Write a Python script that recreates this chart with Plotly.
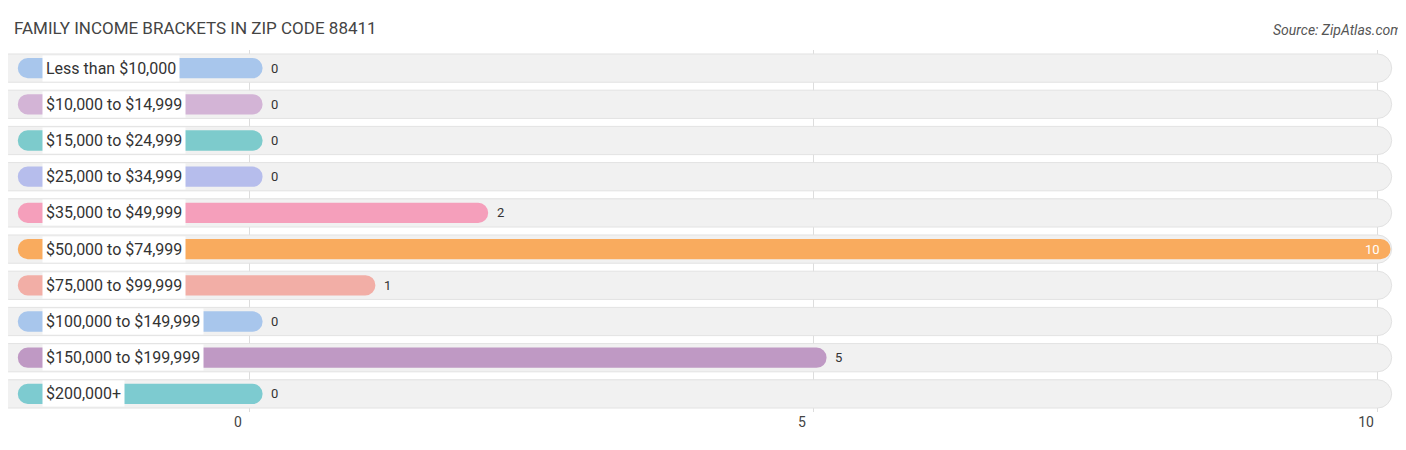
import plotly.graph_objects as go

brackets = ["Less than $10,000", "$10,000 to $14,999", "$15,000 to $24,999",
            "$25,000 to $34,999", "$35,000 to $49,999", "$50,000 to $74,999",
            "$75,000 to $99,999", "$100,000 to $149,999", "$150,000 to $199,999",
            "$200,000+"]
families = [0, 0, 0, 0, 2, 10, 1, 0, 5, 0]
colors = ["#a8c6ec", "#d3b4d6", "#7dcbcc", "#b6bdec", "#f59fbb",
          "#f9ab5e", "#f2aea6", "#a8c6ec", "#bf99c4", "#7dcbd0"]

LEFT = -2.05   # bars start under the label pill
PAD = 0.12     # bar end overshoot past the value
y = list(range(len(brackets)))

fig = go.Figure()
# grey background tracks
fig.add_trace(go.Bar(
    y=y, x=[10.13 + 2.26] * len(y), base=-2.26, orientation="h", width=0.78,
    marker=dict(color="#f1f1f1", line=dict(color="#e2e2e2", width=1)),
    hoverinfo="skip", showlegend=False))
# value bars
fig.add_trace(go.Bar(
    y=y, x=[v + PAD - LEFT for v in families], base=LEFT, orientation="h", width=0.56,
    marker=dict(color=colors, line=dict(width=0)),
    hoverinfo="skip", showlegend=False))

for i, (b, v) in enumerate(zip(brackets, families)):
    fig.add_annotation(x=-1.84, y=i, text=b, xanchor="left", showarrow=False,
                       bgcolor="white", borderpad=3,
                       font=dict(family="Roboto", size=16, color="#333"))
    if v >= 9:
        fig.add_annotation(x=v + PAD - 0.08, y=i, text=str(v), xanchor="right",
                           showarrow=False, font=dict(family="Roboto", size=13, color="white"))
    else:
        fig.add_annotation(x=v + PAD + 0.06, y=i, text=str(v), xanchor="left",
                           showarrow=False, font=dict(family="Roboto", size=13, color="#333"))

fig.add_annotation(x=0.003, y=1, xref="paper", yref="paper", yshift=22, yanchor="middle",
                   text="FAMILY INCOME BRACKETS IN ZIP CODE 88411", xanchor="left", showarrow=False,
                   font=dict(family="Roboto", size=17, color="#444"))
fig.add_annotation(x=0.9985, y=1, xref="paper", yref="paper", yshift=20, yanchor="middle",
                   text="<i>Source: ZipAtlas.com</i>", xanchor="right", showarrow=False,
                   font=dict(family="Roboto", size=14, color="#555"))

fig.update_layout(
    width=1398, height=442, margin=dict(l=0, r=0, t=42, b=38),
    paper_bgcolor="white", plot_bgcolor="white",
    barmode="overlay", barcornerradius="50%",
    xaxis=dict(range=[-2.137, 10.257], tickvals=[0, 5, 10], ticklabelshift=-11,
               showgrid=True, gridcolor="#dddddd", zeroline=False,
               tickfont=dict(family="Roboto", size=14, color="#444")),
    yaxis=dict(range=[9.5, -0.5], showticklabels=False, showgrid=False, zeroline=False),
)

fig.write_html("out.html")
